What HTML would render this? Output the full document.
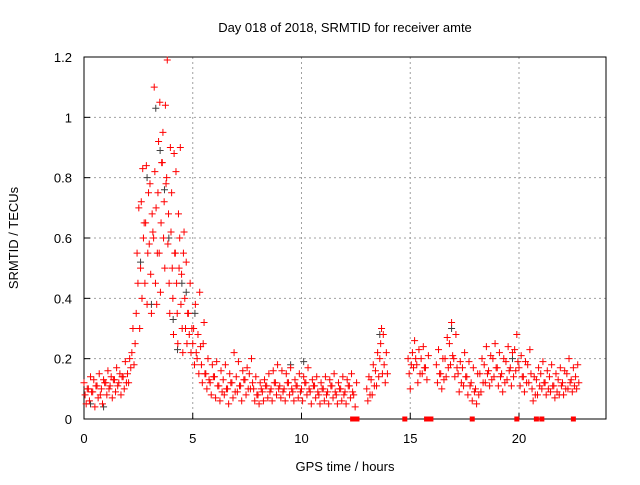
<!DOCTYPE html>
<html><head><meta charset="utf-8"><style>
body{margin:0;background:#fff;}
svg text{font-family:"Liberation Sans",sans-serif;font-size:13px;fill:#000;}
</style></head><body>
<svg id="chart" width="640" height="480" xmlns="http://www.w3.org/2000/svg">
<rect width="640" height="480" fill="#fff"/>
<g id="grid"></g>
<g id="axes"></g>
<g id="pts"></g>
<text x="345" y="32" text-anchor="middle">Day 018 of 2018, SRMTID for receiver amte</text>
<text x="345" y="471" text-anchor="middle">GPS time / hours</text>
<text x="0" y="0" text-anchor="middle" transform="translate(18,238) rotate(-90)">SRMTID / TECUs</text>
</svg>
<script>
const xTicks=[0,5,10,15,20];
const yTicks=[0,0.2,0.4,0.6,0.8,1,1.2];
const yTickLabels=["0","0.2","0.4","0.6","0.8","1","1.2"];
const groupTimes=[0,0.2,0.4,0.6,0.8,1.0,1.2,1.4,1.6,1.8,2.0,2.2,2.4,2.6,2.8,3.0,3.2,3.4,3.6,3.8,4.0,4.2,4.4,4.6,4.8,5.0,5.2,5.4,5.6,5.8,6.0,6.2,6.4,6.6,6.8,7.0,7.2,7.4,7.6,7.8,8.0,8.2,8.4,8.6,8.8,9.0,9.2,9.4,9.6,9.8,10.0,10.2,10.4,10.6,10.8,11.0,11.2,11.4,11.6,11.8,12.0,12.2,12.4,13.0,13.2,13.4,13.6,13.8,14.9,15.1,15.3,15.5,15.7,16.2,16.4,16.6,16.8,17.0,17.2,17.4,17.6,17.8,18.0,18.2,18.4,18.6,18.8,19.0,19.2,19.4,19.6,19.8,20.0,20.2,20.4,20.6,20.8,21.0,21.2,21.4,21.6,21.8,22.0,22.2,22.4,22.6];
const groupValues=[
[0.12,0.08,0.05,0.10],[0.10,0.06,0.14,0.09],[0.09,0.13,0.04,0.11],[0.11,0.07,0.15,0.08],[0.10,0.05,0.13,0.12],
[0.12,0.08,0.16,0.10],[0.11,0.14,0.07,0.13],[0.13,0.09,0.17,0.11],[0.12,0.15,0.08,0.14],[0.14,0.10,0.19,0.12],
[0.15,0.12,0.20,0.17],[0.22,0.30,0.18,0.25],[0.35,0.55,0.45,0.70,0.30],[0.50,0.72,0.40,0.83,0.60,0.65],[0.45,0.65,0.84,0.38,0.55,0.75],
[0.58,0.78,0.48,0.35,0.68,0.62],[0.60,1.10,0.82,0.45,0.70,0.38,0.55],[0.75,0.92,0.55,1.05,0.42,0.65,0.85],[0.85,0.95,0.60,0.72,0.50,1.04,0.78],[0.80,1.19,0.58,0.68,0.45,0.35,0.90],
[0.62,0.75,0.50,0.40,0.28,0.88,0.55],[0.55,0.82,0.45,0.35,0.25,0.68,0.50],[0.60,0.90,0.38,0.48,0.30,0.22,0.55],[0.62,0.40,0.30,0.52,0.25,0.35],[0.35,0.28,0.45,0.22,0.30],
[0.25,0.30,0.18,0.38,0.22],[0.20,0.28,0.15,0.42,0.24],[0.18,0.12,0.25,0.32,0.15],[0.15,0.10,0.20,0.13],[0.12,0.08,0.18,0.14],
[0.14,0.07,0.19,0.11],[0.11,0.06,0.16,0.09],[0.13,0.08,0.18,0.10],[0.10,0.05,0.15,0.12],[0.12,0.07,0.22,0.09],
[0.14,0.09,0.19,0.11],[0.11,0.06,0.16,0.13],[0.13,0.08,0.17,0.10],[0.15,0.10,0.20,0.12],[0.10,0.06,0.14,0.08],
[0.08,0.05,0.12,0.10],[0.09,0.06,0.13,0.11],[0.11,0.07,0.15,0.09],[0.10,0.06,0.16,0.12],[0.12,0.08,0.18,0.10],
[0.11,0.07,0.16,0.09],[0.10,0.06,0.15,0.12],[0.12,0.08,0.17,0.10],[0.09,0.06,0.13,0.11],[0.11,0.07,0.15,0.09],
[0.10,0.06,0.14,0.12],[0.12,0.08,0.17,0.10],[0.09,0.05,0.13,0.11],[0.11,0.07,0.14,0.09],[0.08,0.05,0.12,0.10],
[0.10,0.06,0.14,0.08],[0.09,0.05,0.13,0.11],[0.11,0.07,0.15,0.09],[0.08,0.05,0.12,0.10],[0.10,0.06,0.14,0.08],
[0.09,0.05,0.13,0.11],[0.11,0.07,0.15,0.09],[0.08,0.04,0.12],
[0.10,0.06,0.14,0.08],[0.13,0.08,0.18,0.11],[0.16,0.11,0.22,0.14],[0.20,0.25,0.30,0.15,0.28],[0.18,0.12,0.22,0.15],
[0.20,0.15,0.10,0.18],[0.22,0.17,0.26,0.20],[0.18,0.12,0.23,0.15],[0.20,0.15,0.24,0.17],[0.17,0.13,0.21],
[0.18,0.12,0.23,0.15],[0.15,0.10,0.20,0.13],[0.20,0.14,0.27,0.17],[0.25,0.18,0.32,0.21],[0.20,0.14,0.28,0.17],
[0.15,0.09,0.19,0.12],[0.17,0.11,0.22,0.14],[0.14,0.08,0.19,0.11],[0.12,0.06,0.17,0.09],[0.10,0.05,0.15,0.08],
[0.15,0.09,0.20,0.12],[0.18,0.12,0.24,0.15],[0.16,0.11,0.21,0.13],[0.20,0.14,0.25,0.17],[0.17,0.11,0.22,0.14],
[0.15,0.09,0.20,0.12],[0.19,0.13,0.24,0.16],[0.17,0.11,0.22,0.14],[0.23,0.16,0.28,0.19],[0.17,0.11,0.21,0.14],
[0.14,0.09,0.19,0.12],[0.18,0.12,0.23,0.15],[0.10,0.06,0.14,0.08],[0.13,0.08,0.17,0.11],[0.15,0.10,0.19,0.12],
[0.12,0.08,0.16,0.10],[0.14,0.09,0.18,0.11],[0.11,0.07,0.15,0.09],[0.13,0.08,0.17,0.11],[0.12,0.08,0.16,0.10],
[0.15,0.10,0.20,0.12],[0.13,0.09,0.17,0.11],[0.14,0.10,0.18,0.12]];
const grayTimes=[0.3,0.9,2.6,2.9,3.1,3.3,3.5,3.7,3.9,4.1,4.3,4.5,4.7,5.1,9.5,10.1,13.6,16.9,19.7];
const grayValues=[0.05,0.04,0.52,0.80,0.38,1.03,0.89,0.76,0.60,0.33,0.23,0.45,0.42,0.35,0.18,0.19,0.28,0.30,0.20];
const zeroTimes=[12.35,12.45,12.55,14.75,15.75,15.85,15.95,17.85,19.9,20.8,21.05,22.5];

const X0=84,X1=606,Y0=419,Y1=57;
const xs=t=>X0+t/24*(X1-X0);
const ys=v=>Y0-v/1.2*(Y0-Y1);
const NS="http://www.w3.org/2000/svg";
function mk(tag,attrs,parent){const e=document.createElementNS(NS,tag);for(const k in attrs)e.setAttribute(k,attrs[k]);parent.appendChild(e);return e;}
const grid=document.getElementById('grid'),axes=document.getElementById('axes'),pts=document.getElementById('pts');
xTicks.forEach(t=>{
 const x=xs(t);
 if(t>0){const l=mk('line',{x1:x,x2:x,y1:Y1,y2:Y0,stroke:'#a0a0a0','stroke-dasharray':'2,3','stroke-width':1},grid);
 
 }
 const tk=mk('line',{x1:x,x2:x,y1:Y0,y2:Y0-6,stroke:'#000'},axes);
 
 
 const tx=mk('text',{x:x,y:Y0+24,'text-anchor':'middle'},axes);tx.textContent=String(t);
 
 
});
yTicks.forEach((v,i)=>{
 const y=ys(v);
 if(i>0&&i<yTicks.length-1){const l=mk('line',{x1:X0,x2:X1,y1:y,y2:y,stroke:'#a0a0a0','stroke-dasharray':'2,3','stroke-width':1},grid);
 
 }
 const tk=mk('line',{x1:X0,x2:X0+6,y1:y,y2:y,stroke:'#000'},axes);
 
 
 const tx=mk('text',{x:X0-12,y:y+5,'text-anchor':'end'},axes);tx.textContent=yTickLabels[i];
 
 
});
const frame=mk('rect',{x:X0,y:Y1,width:X1-X0,height:Y0-Y1,fill:'none',stroke:'#000'},axes);


function plus(x,y,col,name){
 const p=mk('path',{d:`M${x-3.5},${y}h7M${x},${y-3.5}v7`,stroke:col,'stroke-width':1,fill:'none'},pts);
 
 
}
grayTimes.forEach((t,i)=>plus(xs(t),ys(grayValues[i]),'#404040','gray-point'));
groupTimes.forEach((t,i)=>{
 const g=groupValues[i];
 g.forEach((v,j)=>plus(xs(t+j*0.2/g.length),ys(v),'#ff0000','red-point'));
});
zeroTimes.forEach(t=>{
 const r=mk('rect',{x:xs(t)-2.5,y:Y0-2.5,width:5,height:5,fill:'#ff0000'},pts);
 
 
});
</script>
</body></html>
